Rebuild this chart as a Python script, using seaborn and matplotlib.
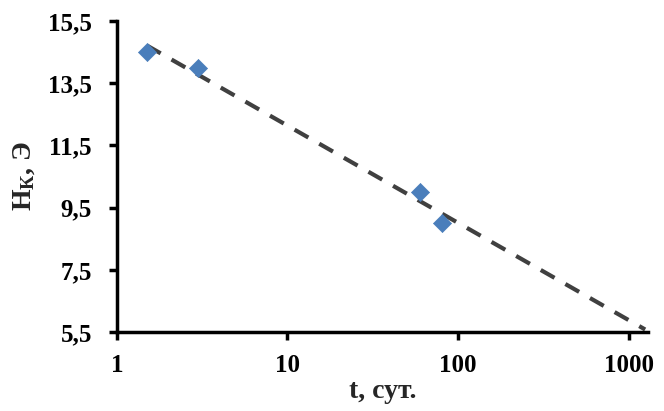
import numpy as np
import pandas as pd
import matplotlib
matplotlib.use("Agg")
import matplotlib.pyplot as plt
import seaborn as sns
from matplotlib.ticker import FixedLocator, FuncFormatter, NullLocator

# Data
t_days = [1.5, 3, 60, 80]
hk_values = [14.5, 14.0, 10.0, 9.0]
trend_range = [1.5, 1250]
y_ticks = [5.5, 7.5, 9.5, 11.5, 13.5, 15.5]
x_ticks = [1, 10, 100, 1000]

sns.set_theme(style="ticks")
plt.rcParams['font.family'] = ['Liberation Serif', 'DejaVu Serif']
plt.rcParams['font.weight'] = 'bold'
plt.rcParams['mathtext.fontset'] = 'custom'
plt.rcParams['mathtext.rm'] = 'Liberation Serif:bold'
plt.rcParams['mathtext.bf'] = 'Liberation Serif:bold'
plt.rcParams['mathtext.it'] = 'Liberation Serif:bold'

df = pd.DataFrame({"t": t_days, "hk": hk_values})

fig = plt.figure(figsize=(6.64, 4.11), dpi=100)
ax = fig.add_axes([0.176, 0.192, 0.8, 0.757])

# logarithmic trendline
coef = np.polyfit(np.log(df["t"]), df["hk"], 1)
tx = np.logspace(np.log10(trend_range[0]), np.log10(trend_range[1]), 200)
ty = coef[0] * np.log(tx) + coef[1]
ax.plot(tx, ty, color="#404040", lw=3.0, dashes=(3.8, 3.0), zorder=2)

sns.scatterplot(data=df, x="t", y="hk", marker="D", s=85, color="#4A7EBB",
                edgecolor="#4A7EBB", linewidth=0.5, ax=ax, zorder=3)

ax.set_xscale("log")
ax.set_xlim(1, 1300)
ax.set_ylim(5.5, 15.5)
ax.xaxis.set_major_locator(FixedLocator(x_ticks))
ax.xaxis.set_minor_locator(NullLocator())
ax.xaxis.set_major_formatter(FuncFormatter(lambda v, p: f"{v:g}"))
ax.yaxis.set_major_locator(FixedLocator(y_ticks))
ax.yaxis.set_major_formatter(FuncFormatter(lambda v, p: f"{v:.1f}".replace(".", ",")))

for s in ["top", "right"]:
    ax.spines[s].set_visible(False)
for s in ["left", "bottom"]:
    ax.spines[s].set_linewidth(2.5)
    ax.spines[s].set_color("black")
ax.tick_params(axis="both", which="major", direction="out", length=6, width=2.5,
               labelsize=18, colors="black")
ax.tick_params(axis="x", pad=10)
ax.tick_params(axis="y", pad=12)
for lab in ax.get_xticklabels() + ax.get_yticklabels():
    lab.set_fontweight("bold")

ax.set_xlabel("t, сут.", fontsize=20, fontweight="bold", labelpad=1)
ax.set_ylabel(r"$\mathregular{H_{К}}$, Э", fontsize=20, fontweight="bold", labelpad=8)
ax.set_facecolor("white")
fig.patch.set_facecolor("white")

fig.savefig("out.png", dpi=100)
